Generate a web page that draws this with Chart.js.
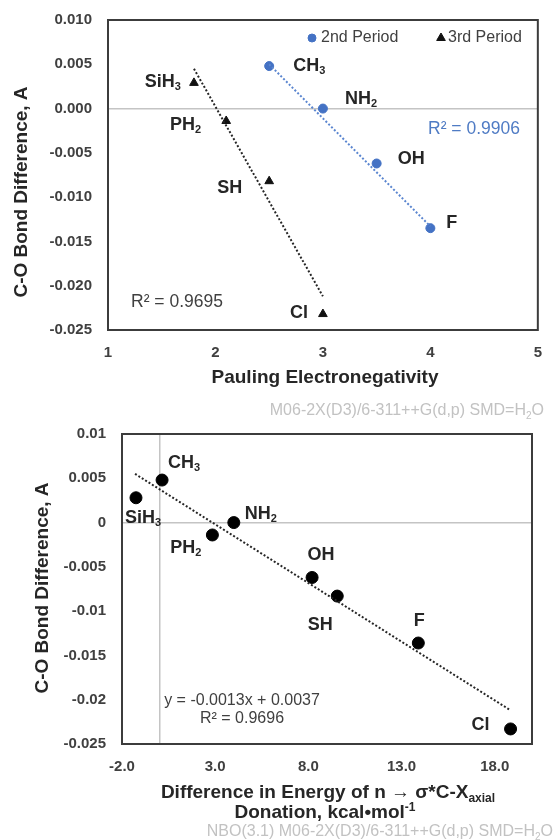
<!DOCTYPE html>
<html>
<head>
<meta charset="utf-8">
<script src="https://cdn.jsdelivr.net/npm/chart.js@4.4.1/dist/chart.umd.min.js"></script>
<style>
  html, body { margin: 0; padding: 0; background: #fff; }
  .box { position: absolute; left: 0; width: 556px; height: 420px; }
</style>
</head>
<body>
<div class="box" style="top:0"><canvas id="top-chart" width="556" height="420"></canvas></div>
<div class="box" style="top:420px"><canvas id="bottom-chart" width="556" height="420"></canvas></div>
<script>
// top chart: bond difference vs Pauling electronegativity
const period2Labels = ['CH3', 'NH2', 'OH', 'F'];
const period2X = [2.5, 3.0, 3.5, 4.0];
const period2Y = [0.0048, 0.0000, -0.0062, -0.0135];
const period3Labels = ['SiH3', 'PH2', 'SH', 'Cl'];
const period3X = [1.8, 2.1, 2.5, 3.0];
const period3Y = [0.0029, -0.0014, -0.0082, -0.0232];
const period2TrendX = [2.5, 4.0];
const period2TrendY = [0.0050, -0.0133];
const period3TrendX = [1.8, 3.0];
const period3TrendY = [0.0045, -0.0212];
const topXTicks = [1, 2, 3, 4, 5];
const yTicks = [0.010, 0.005, 0, -0.005, -0.010, -0.015, -0.020, -0.025];

// bottom chart: bond difference vs n -> sigma* donation energy
const nboLabels = ['SiH3', 'CH3', 'PH2', 'NH2', 'OH', 'SH', 'F', 'Cl'];
const nboX = [-1.25, 0.15, 2.85, 4.0, 8.2, 9.55, 13.9, 18.85];
const nboY = [0.0028, 0.0048, -0.0014, 0.0000, -0.0062, -0.0083, -0.0136, -0.0233];
const nboTrendX = [-1.3, 18.85];
const nboTrendY = [0.0055, -0.0212];
const bottomXTicks = [-2, 0, 3, 8, 13, 18];

const FONT = '"Liberation Sans", Arial, Helvetica, sans-serif';
const BLUE = '#4472C4';
const INK = '#262626';
const TICK = '#404040';
Chart.defaults.font.family = FONT;

// label offsets (dx, dy, align) from each marker
const topPlace = {
  CH3: [24, 0, 'left'], NH2: [22, -10, 'left'], OH: [21, -4, 'left'], F: [16, -5, 'left'],
  SiH3: [-13, -1, 'right'], PH2: [-25, 4, 'right'], SH: [-27, 7, 'right'], Cl: [-15, -1, 'right']
};
const bottomPlace = {
  SiH3: [-11, 20, 'left'], CH3: [6, -17, 'left'], PH2: [-11, 13, 'right'], NH2: [11, -9, 'left'],
  OH: [9, -22, 'center'], SH: [-17, 29, 'center'], F: [1, -22, 'center'], Cl: [-21, -4, 'right']
};

function points(xs, ys) {
  return xs.map((x, i) => ({x: x, y: ys[i]}));
}

function chemParts(label) {
  const m = label.match(/^(\D*)(\d*)$/);
  return m[2] ? [{t: m[1]}, {t: m[2], sub: true}] : [{t: label}];
}

function richText(ctx, parts, x, y, o) {
  const size = o.size;
  const small = Math.round(size * 0.62);
  const weight = o.weight || 'normal';
  ctx.save();
  ctx.translate(x, y);
  if (o.rotate) ctx.rotate(o.rotate);
  ctx.fillStyle = o.color;
  ctx.textBaseline = 'middle';
  ctx.textAlign = 'left';
  let w = 0;
  const widths = parts.map(p => {
    ctx.font = weight + ' ' + (p.sub || p.sup ? small : size) + 'px ' + FONT;
    const pw = ctx.measureText(p.t).width;
    w += pw;
    return pw;
  });
  let cx = o.align === 'right' ? -w : o.align === 'center' ? -w / 2 : 0;
  parts.forEach((p, i) => {
    ctx.font = weight + ' ' + (p.sub || p.sup ? small : size) + 'px ' + FONT;
    const dy = p.sub ? size * 0.3 : p.sup ? -size * 0.3 : 0;
    ctx.fillText(p.t, cx, dy);
    cx += widths[i];
  });
  ctx.restore();
}

const frame = {
  id: 'frame',
  beforeDatasetsDraw(chart) {
    const {ctx, chartArea: a} = chart;
    ctx.save();
    ctx.strokeStyle = '#3c3c3c';
    ctx.lineWidth = 2;
    ctx.strokeRect(a.left, a.top, a.right - a.left, a.bottom - a.top);
    ctx.restore();
  }
};

const annotate = {
  id: 'annotate',
  afterDatasetsDraw(chart, args, opts) {
    const ctx = chart.ctx;
    (opts.pointLabels || []).forEach(set => {
      const meta = chart.getDatasetMeta(set.dataset);
      set.labels.forEach((lab, i) => {
        const el = meta.data[i];
        const p = set.place[lab];
        richText(ctx, chemParts(lab), el.x + p[0], el.y + p[1], {size: 18, weight: 'bold', color: INK, align: p[2]});
      });
    });
    (opts.legend || []).forEach(item => {
      const ds = chart.data.datasets[item.dataset];
      ctx.save();
      ctx.fillStyle = ds.backgroundColor;
      ctx.strokeStyle = ds.borderColor;
      Chart.helpers.drawPoint(ctx, {pointStyle: ds.pointStyle, radius: item.r, borderWidth: 1, rotation: 0}, item.x, item.y);
      ctx.restore();
      richText(ctx, [{t: ds.label}], item.x + item.gap, item.y, {size: 16, color: TICK, align: 'left'});
    });
    (opts.texts || []).forEach(t => richText(ctx, t.parts, t.x, t.y, t));
  }
};

function yScale(width, fmt) {
  return {
    type: 'linear', min: -0.025, max: 0.010,
    afterBuildTicks: s => { s.ticks = yTicks.map(v => ({value: v})); },
    afterFit: s => { s.width = width; s.paddingTop = 0; s.paddingBottom = 0; },
    grid: {drawTicks: false, lineWidth: 1.5, color: c => (c.tick && Math.abs(c.tick.value) < 1e-9) ? '#c4c4c4' : 'rgba(0,0,0,0)'},
    border: {display: false},
    ticks: {padding: 16, color: TICK, font: {size: 15, weight: 'bold'}, callback: fmt}
  };
}

// ---------- top chart ----------
new Chart(document.getElementById('top-chart'), {
  type: 'scatter',
  data: {
    datasets: [
      {label: '2nd Period', data: points(period2X, period2Y), pointStyle: 'circle', pointRadius: 4.5,
       backgroundColor: BLUE, borderColor: BLUE, order: 1},
      {label: '3rd Period', data: points(period3X, period3Y), pointStyle: 'triangle', pointRadius: 5,
       backgroundColor: '#111', borderColor: '#111', order: 1},
      {label: 'trend 2nd', data: points(period2TrendX, period2TrendY), showLine: true, pointRadius: 0,
       borderColor: '#5b86d0', borderWidth: 2, borderDash: [2, 2], order: 0},
      {label: 'trend 3rd', data: points(period3TrendX, period3TrendY), showLine: true, pointRadius: 0,
       borderColor: INK, borderWidth: 2, borderDash: [2, 2], order: 0}
    ]
  },
  options: {
    responsive: false, animation: false, events: [],
    layout: {padding: {left: 0, right: 12, top: 20, bottom: 0}},
    plugins: {
      legend: {display: false}, tooltip: {enabled: false},
      annotate: {
        pointLabels: [
          {dataset: 0, labels: period2Labels, place: topPlace},
          {dataset: 1, labels: period3Labels, place: topPlace}
        ],
        legend: [
          {dataset: 0, x: 312, y: 38, r: 4, gap: 9},
          {dataset: 1, x: 441, y: 38, r: 5, gap: 7}
        ],
        texts: [
          {parts: [{t: 'R² = 0.9906'}], x: 428, y: 129, size: 17.5, color: '#4f7bc4', align: 'left'},
          {parts: [{t: 'R² = 0.9695'}], x: 131, y: 302, size: 17.5, color: TICK, align: 'left'},
          {parts: [{t: 'Pauling Electronegativity'}], x: 325, y: 378, size: 19, weight: 'bold', color: INK, align: 'center'},
          {parts: [{t: 'C-O Bond Difference, A'}], x: 22, y: 192, size: 19, weight: 'bold', color: INK, align: 'center', rotate: -Math.PI / 2},
          {parts: [{t: 'M06-2X(D3)/6-311++G(d,p) SMD=H'}, {t: '2', sub: true}, {t: 'O'}], x: 544, y: 411, size: 16, color: '#c2c2c2', align: 'right'}
        ]
      }
    },
    scales: {
      x: {
        type: 'linear', min: 1, max: 5,
        afterBuildTicks: s => { s.ticks = topXTicks.map(v => ({value: v})); },
        afterFit: s => { s.height = 90; },
        grid: {display: false, drawTicks: false}, border: {display: false},
        ticks: {padding: 14, color: TICK, font: {size: 15, weight: 'bold'}, callback: v => String(v)}
      },
      y: yScale(108, v => v.toFixed(3))
    }
  },
  plugins: [frame, annotate]
});

// ---------- bottom chart ----------
new Chart(document.getElementById('bottom-chart'), {
  type: 'scatter',
  data: {
    datasets: [
      {label: 'NBO', data: points(nboX, nboY), pointStyle: 'circle', pointRadius: 6,
       backgroundColor: '#000', borderColor: '#000', order: 1},
      {label: 'trend', data: points(nboTrendX, nboTrendY), showLine: true, pointRadius: 0,
       borderColor: INK, borderWidth: 2, borderDash: [2, 2], order: 0}
    ]
  },
  options: {
    responsive: false, animation: false, events: [],
    layout: {padding: {left: 0, right: 24, top: 14, bottom: 0}},
    plugins: {
      legend: {display: false}, tooltip: {enabled: false},
      annotate: {
        pointLabels: [{dataset: 0, labels: nboLabels, place: bottomPlace}],
        texts: [
          {parts: [{t: 'y = -0.0013x + 0.0037'}], x: 242, y: 281, size: 16, color: TICK, align: 'center'},
          {parts: [{t: 'R² = 0.9696'}], x: 242, y: 299, size: 16, color: TICK, align: 'center'},
          {parts: [{t: 'Difference in Energy of n \u2192 \u03c3*C-X'}, {t: 'axial', sub: true}], x: 328, y: 373, size: 19, weight: 'bold', color: INK, align: 'center'},
          {parts: [{t: 'Donation, kcal\u2022mol'}, {t: '-1', sup: true}], x: 325, y: 393, size: 19, weight: 'bold', color: INK, align: 'center'},
          {parts: [{t: 'C-O Bond Difference, A'}], x: 43, y: 168, size: 19, weight: 'bold', color: INK, align: 'center', rotate: -Math.PI / 2},
          {parts: [{t: 'NBO(3.1) M06-2X(D3)/6-311++G(d,p) SMD=H'}, {t: '2', sub: true}, {t: 'O'}], x: 553, y: 412, size: 16, color: '#c2c2c2', align: 'right'}
        ]
      }
    },
    scales: {
      x: {
        type: 'linear', min: -2, max: 20,
        afterBuildTicks: s => { s.ticks = bottomXTicks.map(v => ({value: v})); },
        afterFit: s => { s.height = 96; },
        grid: {drawTicks: false, lineWidth: 1.5, color: c => (c.tick && c.tick.value === 0) ? '#c4c4c4' : 'rgba(0,0,0,0)'},
        border: {display: false},
        ticks: {padding: 14, autoSkip: false, maxRotation: 0, color: TICK, font: {size: 15, weight: 'bold'},
                callback: v => v === 0 ? '' : v.toFixed(1)}
      },
      y: yScale(122, v => String(Number(v.toFixed(3))))
    }
  },
  plugins: [frame, annotate]
});
</script>
</body>
</html>
